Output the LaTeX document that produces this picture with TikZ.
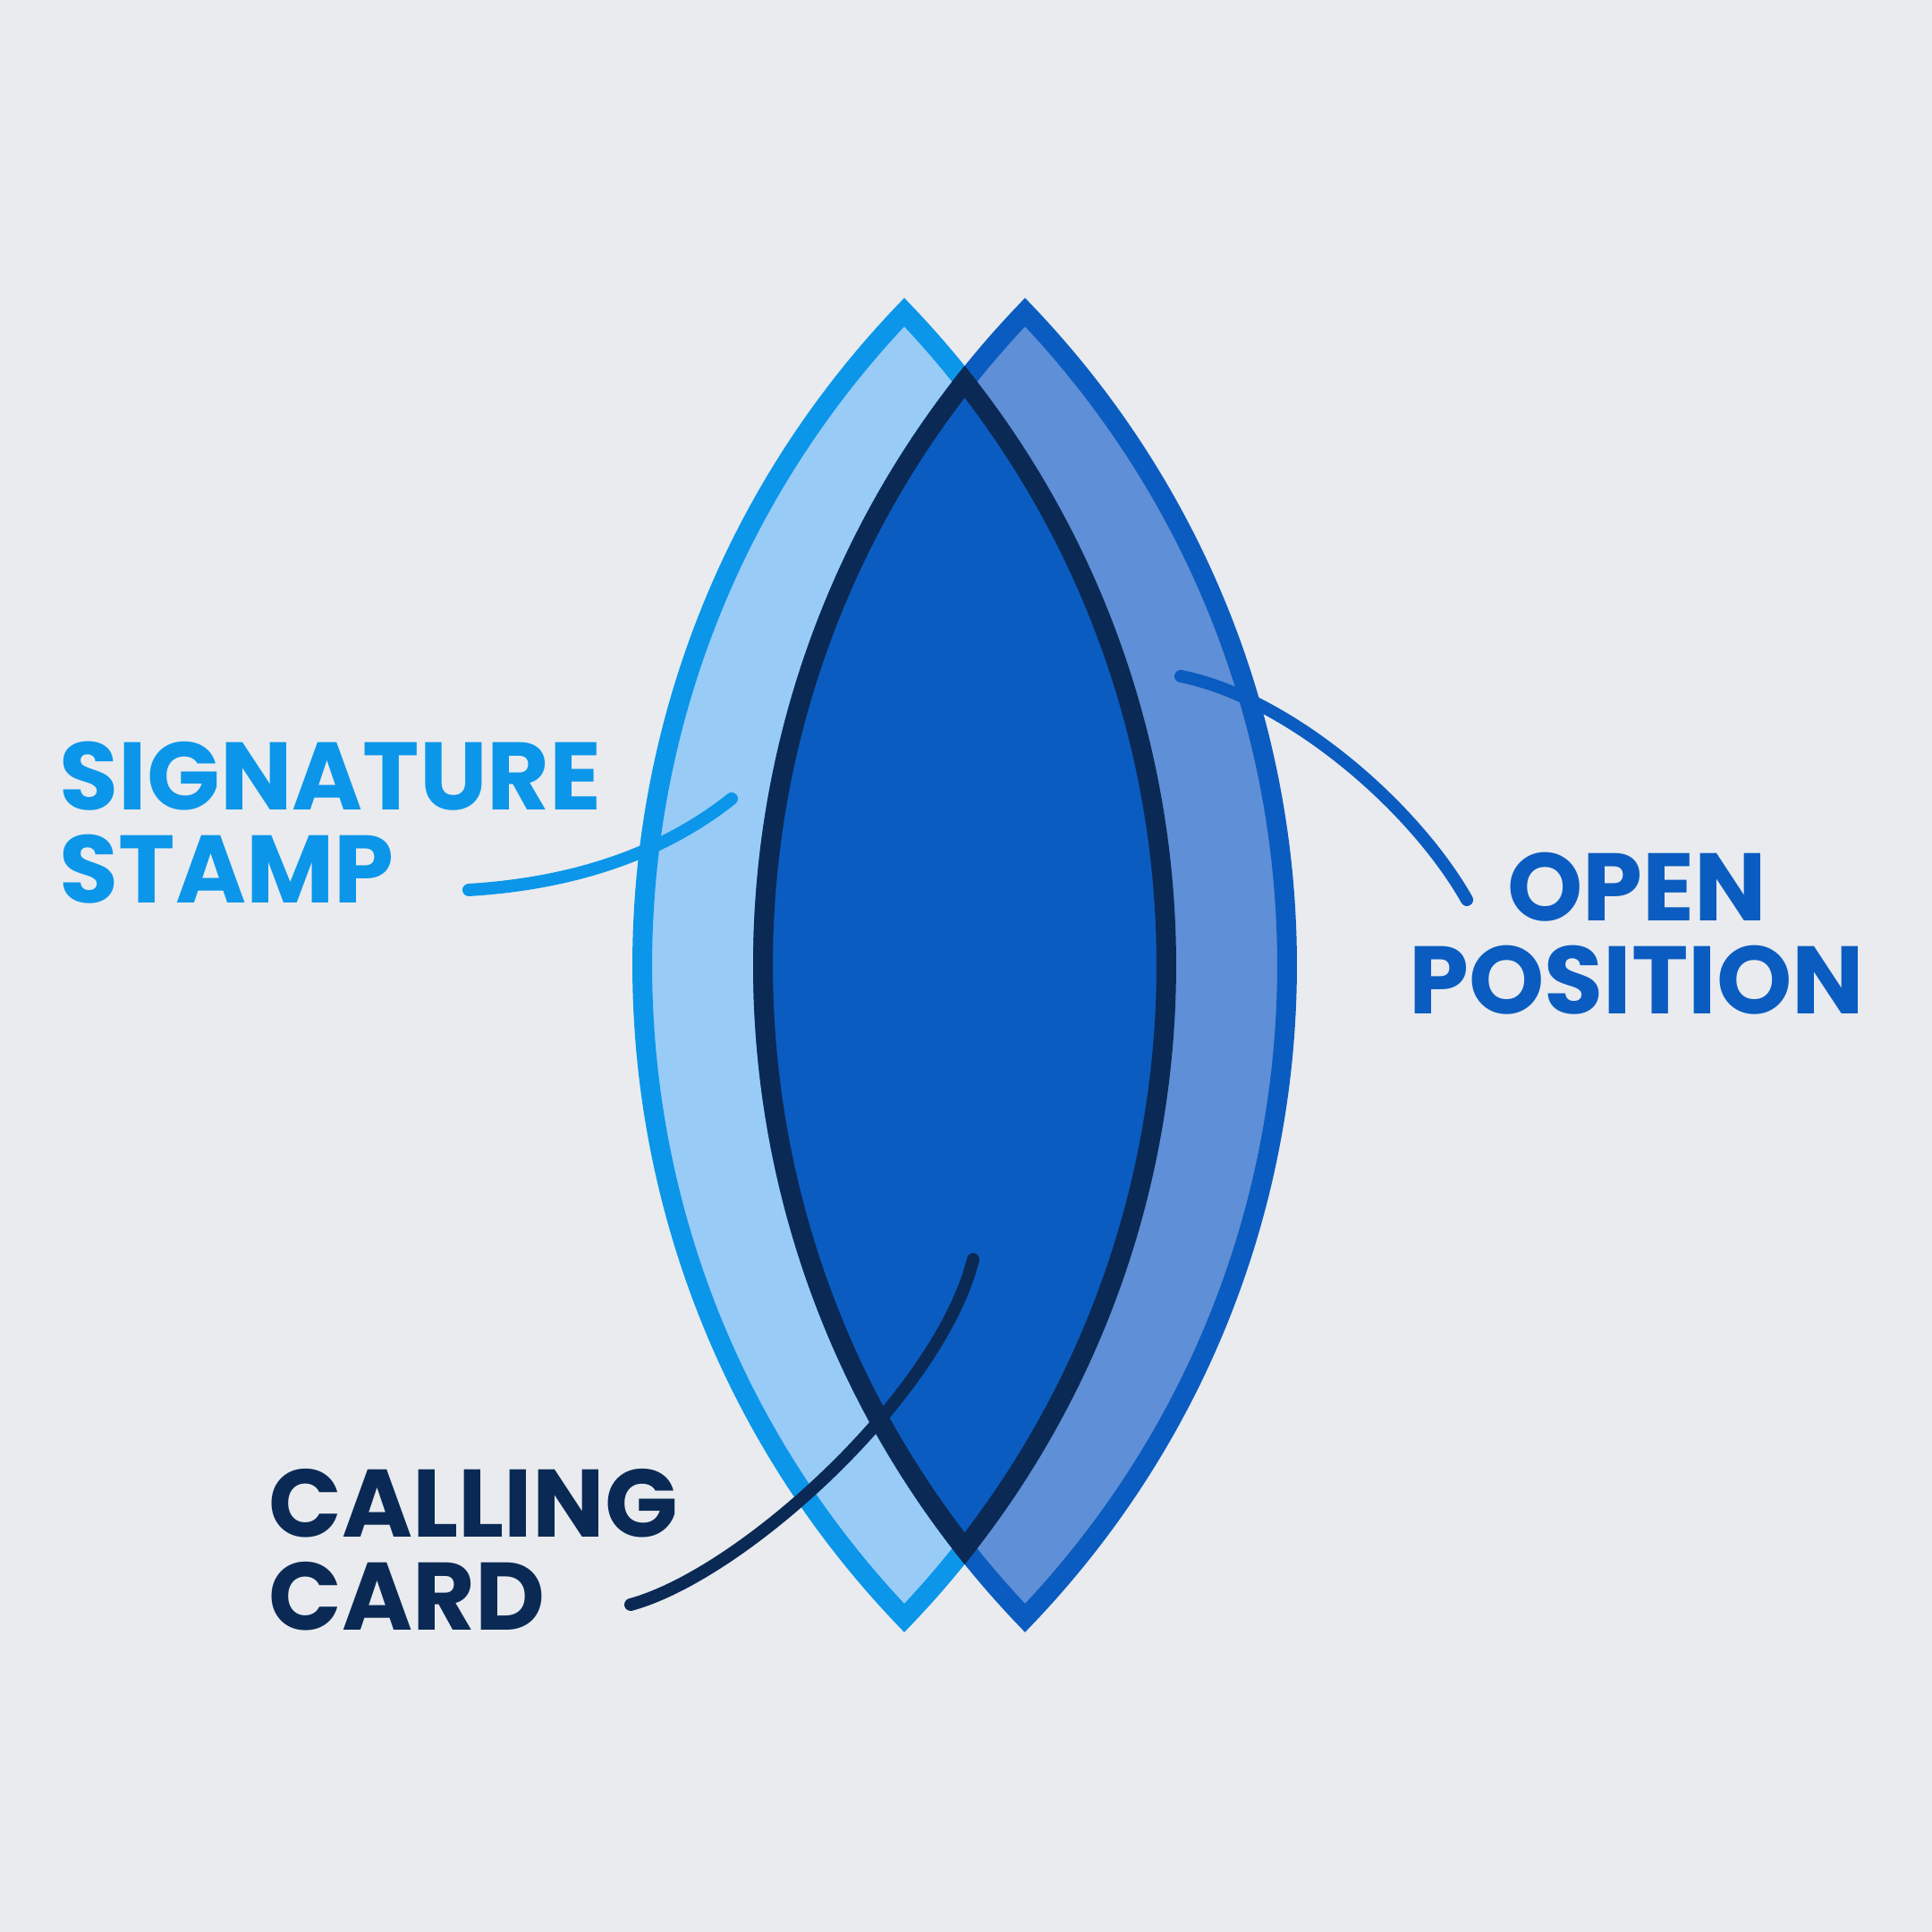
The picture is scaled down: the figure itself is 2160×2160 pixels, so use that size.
\documentclass[tikz,border=0pt]{standalone}
\usepackage{fontspec}
\setmainfont{Poppins}
\definecolor{paper}{HTML}{E9EBEF}
\definecolor{skyline}{HTML}{0B96E9}
\definecolor{skyfill}{HTML}{99CBF7}
\definecolor{royalline}{HTML}{0B5CC0}
\definecolor{royalfill}{HTML}{5F8FD6}
\definecolor{corefill}{HTML}{0B5CC0}
\definecolor{navy}{HTML}{0A2A55}
% lens: centre x, centre y, arc centre offset, arc radius
\newcommand{\lens}[4]{(#1,#2) ++(0,{#4*sin(acos(#3/#4))})
  arc[start angle={180-acos(#3/#4)}, end angle={180+acos(#3/#4)}, radius=#4]
  arc[start angle={-acos(#3/#4)}, end angle={acos(#3/#4)}, radius=#4] -- cycle}
\tikzset{
  tag/.style={font=\fontsize{30.5}{29.8}\selectfont\bfseries, inner sep=0pt, align=left},
  brush/.style={line width=0.14cm, line cap=round},
  rim/.style={line width=0.22cm, line join=miter}
}
\begin{document}
\begin{tikzpicture}[x=0.01cm,y=0.01cm]
  \def\d{762.9}
  \def\R{1055.9}
  \def\Ro{1066.9} % radius incl. half the rim
  \fill[paper] (0,0) rectangle (2160,2160);
  \useasboundingbox (0,0) rectangle (2160,2160);
  % the two lenses
  \filldraw[rim, fill=skyfill, draw=skyline] \lens{1011}{1081}{\d}{\R};
  \filldraw[rim, fill=royalfill, draw=royalline] \lens{1146}{1081}{\d}{\R};
  % overlap
  \begin{scope}
    \clip \lens{1011}{1081}{\d}{\R};
    \fill[corefill] \lens{1146}{1081}{\d}{\R};
  \end{scope}
  \begin{scope}
    \clip \lens{1011}{1081}{\d}{\Ro};
    \draw[rim, navy] \lens{1146}{1081}{\d}{\R};
  \end{scope}
  \begin{scope}
    \clip \lens{1146}{1081}{\d}{\Ro};
    \draw[rim, navy] \lens{1011}{1081}{\d}{\R};
  \end{scope}
  % labels
  \node[tag, skyline, anchor=base west] (sig) at (66,1150) {SIGNATURE\\STAMP};
  \node[tag, royalline, align=center, anchor=base] (open) at (1830,1026) {OPEN\\POSITION};
  \node[tag, navy, anchor=base west] (call) at (300,337) {CALLING\\CARD};
  % pointers
  \coordinate (sigA) at (524,1165);
  \coordinate (sigB) at (818,1267);
  \coordinate (openA) at (1320,1404);
  \coordinate (openB) at (1640,1154);
  \coordinate (callA) at (705,366);
  \coordinate (callB) at (1088,752);
  \draw[brush, skyline] (sigA) .. controls (640,1172) and (740,1205) .. (sigB);
  \draw[brush, royalline] (openA) .. controls (1440,1380) and (1580,1260) .. (openB);
  \draw[brush, navy] (callA) .. controls (830,400) and (1050,600) .. (callB);
\end{tikzpicture}
\end{document}
